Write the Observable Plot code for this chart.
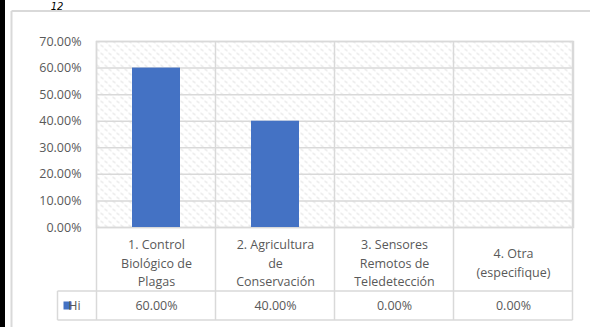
<!DOCTYPE html>
<html>
<head>
<meta charset="utf-8">
<script src="https://cdn.jsdelivr.net/npm/d3@7"></script>
<script src="https://cdn.jsdelivr.net/npm/@observablehq/plot@0.6"></script>
<style>
  html, body { margin: 0; padding: 0; background: #fff; }
  #chart { width: 590px; height: 327px; overflow: hidden; }
</style>
</head>
<body>
<div id="chart"></div>
<script>
// Categories (each label broken into the lines shown in the data table)
const categories = [
  "1. Control\nBiológico de\nPlagas",
  "2. Agricultura\nde\nConservación",
  "3. Sensores\nRemotos de\nTeledetección",
  "4. Otra\n(especifique)"
];
// Series "Hi" (percent)
const seriesName = "Hi";
const values = [60, 40, 0, 0];
// Y-axis ticks (percent)
const yTicks = [0, 10, 20, 30, 40, 50, 60, 70];

const W = 590, H = 327;
const margin = { top: 41, right: 17, bottom: 100, left: 96 };
const headRow = 64, valueRow = 29, legendCol = 39;
const gridColor = "#d9d9d9";
const textColor = "#595959";
const barColor = "#4472C4";
const fontFamily = "'Open Sans', 'Noto Sans', sans-serif";
const fontSize = "12.5px";
const fmt = v => v.toFixed(2) + "%";

const rows = categories.map((c, i) => ({ category: c, value: values[i] }));

const plot = Plot.plot({
  width: W,
  height: H,
  marginTop: margin.top,
  marginRight: margin.right,
  marginBottom: margin.bottom,
  marginLeft: margin.left,
  style: { fontFamily, fontSize, color: textColor, background: "transparent" },
  x: { domain: categories, paddingInner: 0.6, paddingOuter: 0.3, axis: null },
  y: {
    domain: [0, d3.max(yTicks)],
    ticks: yTicks.length - 1,
    tickFormat: fmt,
    tickSize: 0,
    tickPadding: 15,
    label: null
  },
  marks: [
    Plot.frame({ fill: "url(#hatch)", stroke: gridColor, strokeWidth: 1.5 }),
    Plot.ruleY(yTicks, { stroke: gridColor, strokeWidth: 1.5 }),
    Plot.barY(rows, { x: "category", y: "value", fill: barColor }),
    // data table: category labels
    Plot.text(rows, {
      x: "category", text: "category", frameAnchor: "bottom",
      dy: 34, lineAnchor: "middle", lineHeight: 1.5, fill: textColor
    }),
    // data table: values
    Plot.text(rows, {
      x: "category", text: d => fmt(d.value), frameAnchor: "bottom",
      dy: headRow + valueRow / 2, lineAnchor: "middle", fill: textColor
    })
  ]
});

document.getElementById("chart").appendChild(plot);

const svg = d3.select(plot);

// diagonal dashed fill for the plot area
const pat = svg.insert("defs", ":first-child")
  .append("pattern")
  .attr("id", "hatch")
  .attr("patternUnits", "userSpaceOnUse")
  .attr("width", 8).attr("height", 8);
pat.append("rect").attr("width", 8).attr("height", 8).attr("fill", "#fff");
pat.append("path")
  .attr("d", "M0,0.5 L3,2.5 M4,4.5 L7,6.5")
  .attr("stroke", "#dcdcdc").attr("stroke-width", 1).attr("fill", "none");

const xs = plot.scale("x"), ys = plot.scale("y");
const gap = (xs.step - xs.bandwidth) / 2;
const bounds = categories.map(c => xs.apply(c) - gap);
bounds.push(bounds[bounds.length - 1] + xs.step);

const yTop = ys.apply(d3.max(yTicks));
const y0 = ys.apply(0);
const yHead = y0 + headRow;
const yEnd = yHead + valueRow;
const xLeft = bounds[0], xRight = bounds[bounds.length - 1];

const g = svg.append("g").attr("stroke", gridColor).attr("stroke-width", 1.5);
bounds.forEach(b => {
  g.append("line").attr("x1", b).attr("x2", b).attr("y1", yTop).attr("y2", yEnd);
});
g.append("line").attr("x1", xLeft - legendCol).attr("x2", xRight).attr("y1", yHead).attr("y2", yHead);
g.append("line").attr("x1", xLeft - legendCol).attr("x2", xRight).attr("y1", yEnd).attr("y2", yEnd);
g.append("line").attr("x1", xLeft - legendCol).attr("x2", xLeft - legendCol).attr("y1", yHead).attr("y2", yEnd);

// legend key in the table's value row
const yMid = (yHead + yEnd) / 2;
svg.append("rect")
  .attr("x", xLeft - legendCol + 6).attr("y", yMid - 4)
  .attr("width", 8).attr("height", 8).attr("fill", barColor);
svg.append("text")
  .attr("x", xLeft - legendCol + 17).attr("y", yMid)
  .attr("dy", "0.35em")
  .attr("fill", textColor)
  .style("font-family", fontFamily).style("font-size", fontSize)
  .text(seriesName);

// chart area border and page edge
svg.append("line").attr("x1", 11.5).attr("x2", W).attr("y1", 11).attr("y2", 11)
  .attr("stroke", gridColor).attr("stroke-width", 2);
svg.append("line").attr("x1", 11.5).attr("x2", 11.5).attr("y1", 11).attr("y2", H)
  .attr("stroke", gridColor).attr("stroke-width", 2);
svg.append("rect").attr("x", 0).attr("y", 0).attr("width", 5).attr("height", H).attr("fill", "#000");
svg.append("text")
  .attr("x", 57).attr("y", 10)
  .attr("fill", "#000")
  .style("font-family", "'DejaVu Sans', sans-serif")
  .style("font-style", "italic")
  .style("font-size", "10px")
  .text("12");
</script>
</body>
</html>
